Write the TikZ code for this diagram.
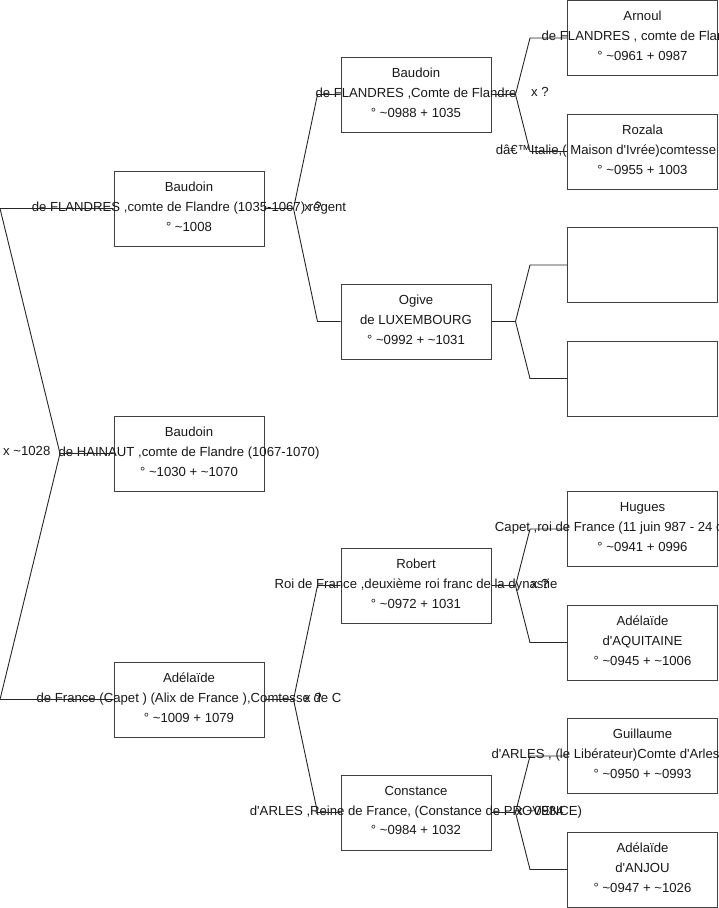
\documentclass[tikz,border=0pt]{standalone}
\usepackage{fontspec}
\setmainfont{Liberation Sans}[Ligatures=TeXOff]
\tikzset{
  personbox/.style={draw=black!75,line width=1bp,minimum width=150bp,minimum height=75bp,inner sep=0pt},
  persontext/.style={align=center,inner sep=0pt,yshift=2bp,font=\fontsize{13.2}{20}\selectfont,text=black!90},
  unionlabel/.style={inner sep=0pt,font=\fontsize{13.2}{15}\selectfont,text=black!90},
  link/.style={draw=black!85,line width=0.9bp},
}
\begin{document}
\begin{tikzpicture}[x=1bp,y=-1bp]
  \useasboundingbox[fill=white] (0,0) rectangle (719,908);

  % first column
  \node[personbox] (baudoinF) at (189,208.5) {};
  \node[persontext] (baudoinF-t) at (baudoinF) {Baudoin\\de FLANDRES ,comte de Flandre (1035-1067) r\'egent\\\textdegree{} \textasciitilde1008};
  \node[personbox] (baudoinH) at (189,453.5) {};
  \node[persontext] (baudoinH-t) at (baudoinH) {Baudoin\\de HAINAUT ,comte de Flandre (1067-1070)\\\textdegree{} \textasciitilde1030 + \textasciitilde1070};
  \node[personbox] (adelaideF) at (189,699.5) {};
  \node[persontext] (adelaideF-t) at (adelaideF) {Ad\'ela\"ide\\de France (Capet ) (Alix de France ),Comtesse de C\\\textdegree{} \textasciitilde1009 + 1079};

  % second column
  \node[personbox] (baudoinC) at (416,94.5) {};
  \node[persontext] (baudoinC-t) at (baudoinC) {Baudoin\\de FLANDRES ,Comte de Flandre\\\textdegree{} \textasciitilde0988 + 1035};
  \node[personbox] (ogive) at (416,321.5) {};
  \node[persontext] (ogive-t) at (ogive) {Ogive\\de LUXEMBOURG\\\textdegree{} \textasciitilde0992 + \textasciitilde1031};
  \node[personbox] (robert) at (416,585.5) {};
  \node[persontext] (robert-t) at (robert) {Robert\\Roi de France ,deuxi\`eme roi franc de la dynastie\\\textdegree{} \textasciitilde0972 + 1031};
  \node[personbox] (constance) at (416,812.5) {};
  \node[persontext] (constance-t) at (constance) {Constance\\d'ARLES ,Reine de France, (Constance de PROVENCE)\\\textdegree{} \textasciitilde0984 + 1032};

  % third column
  \node[personbox] (arnoul) at (642.5,38) {};
  \node[persontext] (arnoul-t) at (arnoul) {Arnoul\\de FLANDRES , comte de Flandre\\\textdegree{} \textasciitilde0961 + 0987};
  \node[personbox] (rozala) at (642.5,151.5) {};
  \node[persontext] (rozala-t) at (rozala) {Rozala\\dâ€™Italie,( Maison d'Ivr\'ee)comtesse de Flandres\\\textdegree{} \textasciitilde0955 + 1003};
  \node[personbox] (emptyA) at (642.5,265) {};
  \node[personbox] (emptyB) at (642.5,378.5) {};
  \node[personbox] (hugues) at (642.5,529) {};
  \node[persontext] (hugues-t) at (hugues) {Hugues\\Capet ,roi de France (11 juin 987 - 24 octobre 996)\\\textdegree{} \textasciitilde0941 + 0996};
  \node[personbox] (adelaideA) at (642.5,642.5) {};
  \node[persontext] (adelaideA-t) at (adelaideA) {Ad\'ela\"ide\\d'AQUITAINE\\\textdegree{} \textasciitilde0945 + \textasciitilde1006};
  \node[personbox] (guillaume) at (642.5,756) {};
  \node[persontext] (guillaume-t) at (guillaume) {Guillaume\\d'ARLES , (le Lib\'erateur)Comte d'Arles et Provence\\\textdegree{} \textasciitilde0950 + \textasciitilde0993};
  \node[personbox] (adelaideJ) at (642.5,869.5) {};
  \node[persontext] (adelaideJ-t) at (adelaideJ) {Ad\'ela\"ide\\d'ANJOU\\\textdegree{} \textasciitilde0947 + \textasciitilde1026};

  % union labels
  \node[unionlabel,anchor=west] (union0) at (3,451) {x \textasciitilde1028};
  \node[unionlabel] (union1) at (313,207) {x ?};
  \node[unionlabel] (union2) at (313,698) {x ?};
  \node[unionlabel] (union3) at (540,92) {x ?};
  \node[unionlabel] (union4) at (540,584) {x ?};
  \node[unionlabel] (union5) at (540,811) {x \textasciitilde0984};

  % left fork
  \coordinate (fork0) at (60,453.5);
  \coordinate (edgeF) at (0,208.5);
  \coordinate (edgeA) at (0,699.5);
  \draw[link] (baudoinH.west) -- (fork0) -- (edgeF) -- (baudoinF.west);
  \draw[link] (fork0) -- (edgeA) -- (adelaideF.west);

  % parent forks
  \foreach \kid/\fa/\mo/\stem/\bend in {baudoinF/baudoinC/ogive/29/23, adelaideF/robert/constance/29/23,
      baudoinC/arnoul/rozala/24/37, ogive/emptyA/emptyB/24/37,
      robert/hugues/adelaideA/24/37, constance/guillaume/adelaideJ/24/37}{
    \draw[link] (\kid.east) -- ++(\stem,0) coordinate (fork-\kid)
      -- ([xshift=-\bend bp]\fa.west) -- (\fa.west);
    \draw[link] (fork-\kid) -- ([xshift=-\bend bp]\mo.west) -- (\mo.west);
  }
\end{tikzpicture}
\end{document}
